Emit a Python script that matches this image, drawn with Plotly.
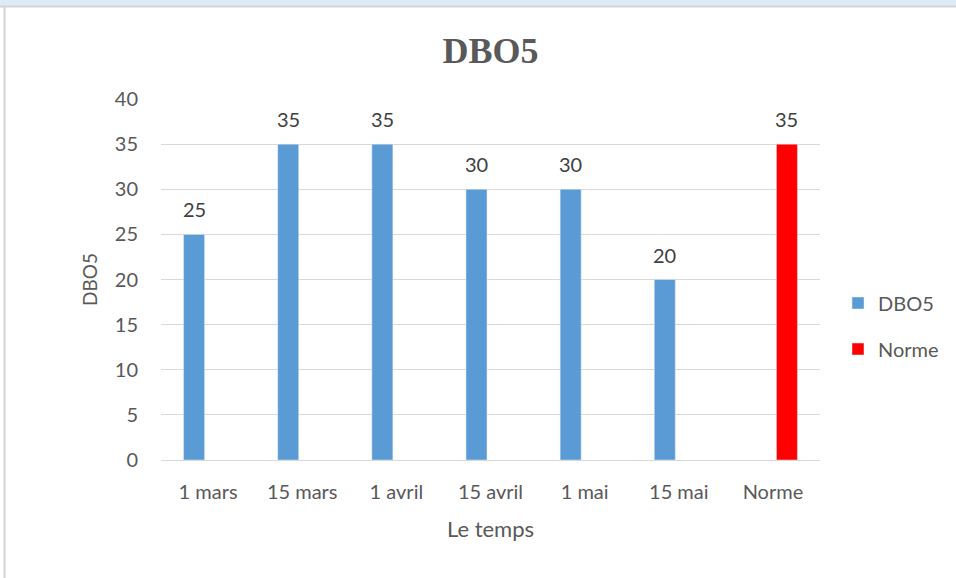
import plotly.graph_objects as go

categories = ["1 mars", "15 mars", "1 avril", "15 avril", "1 mai", "15 mai", "Norme"]
dbo5_values = [25, 35, 35, 30, 30, 20, None]
norme_values = [None, None, None, None, None, None, 35]
y_ticks = [0, 5, 10, 15, 20, 25, 30, 35, 40]

W, H = 956, 578
L, R, T, B = 161, 136, 99, 118
PW, PH = W - L - R, H - T - B

def px_x(px):
    return (px - L) / PW

def px_y(py):
    return 1 - (py - T) / PH

FONT = "Lato, Calibri, 'Open Sans', sans-serif"
TXT = "#595959"

fig = go.Figure()
fig.add_trace(go.Bar(
    x=categories, y=dbo5_values, name="DBO5",
    marker=dict(color="#5B9BD5"), legendgroup="a",
))
fig.add_trace(go.Bar(
    x=categories, y=norme_values, name="Norme",
    marker=dict(color="#FF0000"), legendgroup="b",
))

annotations = []
for c, v in zip(categories, dbo5_values):
    if v is not None:
        annotations.append(dict(x=c, y=v, xref="x", yref="y", text=str(v), showarrow=False,
                                xshift=-14, yshift=25, font=dict(family=FONT, size=20, color="#404040")))
for c, v in zip(categories, norme_values):
    if v is not None:
        annotations.append(dict(x=c, y=v, xref="x", yref="y", text=str(v), showarrow=False,
                                xshift=14, yshift=25, font=dict(family=FONT, size=20, color="#404040")))

shapes = [
    dict(type="rect", xref="paper", yref="paper", x0=px_x(-5), x1=px_x(W + 5), y0=px_y(6), y1=px_y(-5),
         fillcolor="#DEEAF6", line=dict(width=0), layer="below"),
    dict(type="line", xref="paper", yref="paper", x0=px_x(0), x1=px_x(W + 5), y0=px_y(6.5), y1=px_y(6.5),
         line=dict(color="#D4D4D4", width=2)),
    dict(type="line", xref="paper", yref="paper", x0=px_x(4.5), x1=px_x(4.5), y0=px_y(6), y1=px_y(H + 5),
         line=dict(color="#D4D4D4", width=2)),
]

fig.update_layout(
    width=W, height=H,
    margin=dict(l=L, r=R, t=T, b=B, autoexpand=False),
    paper_bgcolor="white", plot_bgcolor="white",
    barmode="group", bargap=0.405, bargroupgap=0.25,
    title=dict(text="<b>DBO5</b>", x=0.5, xref="paper", y=1 - 50 / H, yref="container",
               xanchor="center", yanchor="middle",
               font=dict(family="'Liberation Serif', 'Times New Roman', serif", size=36, color=TXT)),
    font=dict(family=FONT, size=20, color=TXT),
    xaxis=dict(title=dict(text="Le temps", font=dict(size=22, color=TXT), standoff=19),
               showgrid=False, showline=False, ticks="", ticklabelstandoff=18, automargin=False,
               tickfont=dict(size=20, color=TXT)),
    yaxis=dict(title=dict(text="DBO5", font=dict(size=19, color=TXT), standoff=12),
               range=[0, 40], tickvals=y_ticks, showgrid=True, gridcolor="#D9D9D9", gridwidth=1,
               zeroline=True, zerolinecolor="#D9D9D9", zerolinewidth=1, automargin=False,
               showline=False, ticks="", ticklabelstandoff=22,
               tickfont=dict(size=20, color=TXT)),
    legend=dict(x=px_x(838), y=px_y(326), xanchor="left", yanchor="middle",
                font=dict(family=FONT, size=20, color=TXT), tracegroupgap=17,
                bgcolor="rgba(0,0,0,0)"),
    annotations=annotations,
    shapes=shapes,
)

fig.write_html("out.html", config={"displayModeBar": False},
               post_script="document.body.style.margin='0';")
